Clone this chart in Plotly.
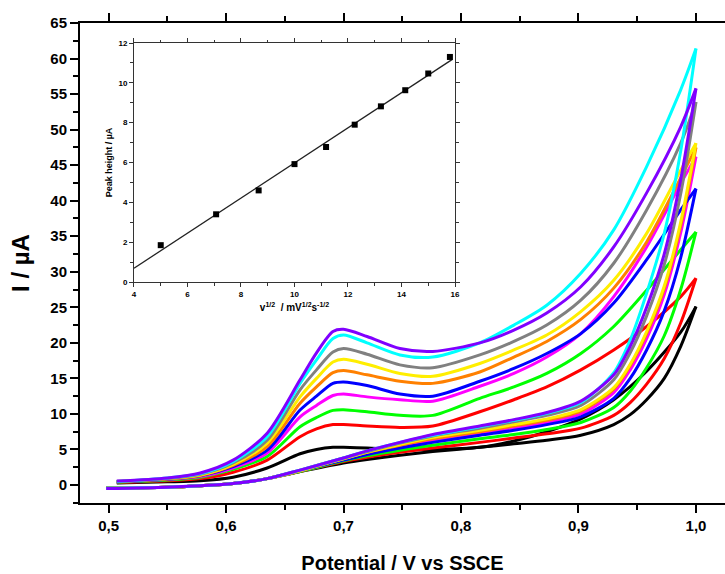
import numpy as np
import plotly.graph_objects as go

# ---------------- data ----------------
E_fwd = [0.507, 0.55, 0.578, 0.606, 0.635, 0.663, 0.677, 0.691, 0.70, 0.72, 0.748, 0.776,
         0.816, 0.845, 0.873, 0.902, 0.930, 0.958, 0.987, 1.0]
E_rev = [1.0, 0.987, 0.973, 0.958, 0.944, 0.93, 0.902, 0.873, 0.845, 0.816, 0.776, 0.748,
         0.72, 0.70, 0.663, 0.635, 0.606, 0.578, 0.55, 0.498]

series_names = ["black", "red", "green", "magenta", "blue", "orange", "yellow", "gray", "cyan", "purple"]

fwd_black   = [0.3, 0.45, 0.6, 1.1, 2.4, 4.4, 5.0, 5.3, 5.3, 5.2, 5.0, 5.0, 5.3, 6.2, 7.5, 9.3, 12.0, 16.0, 21.5, 25.1]
fwd_red     = [0.35, 0.6, 0.9, 1.8, 3.5, 6.8, 7.9, 8.5, 8.5, 8.3, 8.1, 8.3, 10.3, 12.0, 13.8, 16.2, 19.0, 22.3, 26.5, 29.1]
fwd_green   = [0.4, 0.7, 1.1, 2.2, 4.0, 8.2, 9.5, 10.5, 10.6, 10.3, 9.8, 9.8, 12.2, 13.8, 15.7, 18.5, 22.3, 27.4, 33.1, 35.6]
fwd_magenta = [0.45, 0.8, 1.2, 2.4, 4.5, 9.6, 11.2, 12.6, 12.8, 12.4, 12.0, 11.8, 13.9, 15.7, 18.0, 21.3, 26.5, 33.5, 42.4, 46.2]
fwd_blue    = [0.45, 0.8, 1.3, 2.6, 4.9, 10.55, 12.5, 14.3, 14.5, 14.0, 12.8, 12.5, 14.6, 16.4, 18.5, 21.3, 25.6, 31.7, 38.7, 41.7]
fwd_orange  = [0.5, 0.85, 1.35, 2.75, 5.4, 11.5, 13.8, 15.8, 16.1, 15.5, 14.6, 14.3, 15.9, 18.0, 20.2, 23.3, 27.7, 34.2, 43.2, 47.5]
fwd_yellow  = [0.5, 0.9, 1.4, 2.9, 5.9, 12.4, 15.0, 17.3, 17.7, 17.0, 15.7, 15.3, 17.1, 19.0, 21.1, 24.4, 28.8, 35.4, 44.3, 48.1]
fwd_gray    = [0.5, 0.9, 1.5, 3.1, 6.3, 13.4, 16.2, 18.7, 19.2, 18.4, 16.9, 16.5, 18.3, 20.2, 22.5, 26.0, 31.2, 38.7, 48.1, 53.9]
fwd_cyan    = [0.5, 1.0, 1.6, 3.3, 6.8, 14.3, 17.6, 20.6, 21.1, 20.0, 18.3, 18.0, 20.0, 22.5, 25.3, 29.8, 35.9, 44.8, 55.6, 61.4]
fwd_purple  = [0.55, 1.0, 1.7, 3.5, 7.3, 14.8, 18.6, 21.6, 21.9, 20.9, 19.2, 18.8, 20.0, 21.8, 24.2, 27.9, 33.5, 41.1, 50.4, 55.8]

rev_black   = [25.1, 19.5, 15.0, 12.0, 9.9, 8.5, 7.0, 6.3, 5.8, 5.3, 4.7, 4.2, 3.6, 3.1, 1.9, 0.9, 0.2, -0.1, -0.3, -0.4]
rev_red     = [29.1, 22.8, 17.8, 14.2, 11.6, 9.8, 8.0, 7.2, 6.6, 6.0, 5.2, 4.6, 3.9, 3.3, 1.9, 0.9, 0.2, -0.1, -0.3, -0.4]
rev_green   = [35.6, 27.5, 21.0, 16.5, 13.2, 10.9, 8.8, 7.8, 7.1, 6.5, 5.6, 4.9, 4.1, 3.4, 1.9, 0.9, 0.2, -0.1, -0.3, -0.4]
rev_magenta = [46.2, 35.5, 26.8, 20.6, 16.2, 13.0, 10.0, 8.8, 8.0, 7.2, 6.2, 5.4, 4.4, 3.6, 2.0, 0.9, 0.2, -0.1, -0.3, -0.4]
rev_blue    = [41.7, 32.0, 24.5, 19.0, 15.0, 12.2, 9.6, 8.5, 7.7, 7.0, 6.0, 5.2, 4.3, 3.5, 2.0, 0.9, 0.2, -0.1, -0.3, -0.4]
rev_orange  = [47.5, 36.5, 27.6, 21.3, 16.8, 13.5, 10.4, 9.1, 8.3, 7.5, 6.5, 5.6, 4.6, 3.7, 2.0, 0.9, 0.2, -0.1, -0.3, -0.4]
rev_yellow  = [48.1, 37.0, 28.0, 21.6, 17.0, 13.7, 10.6, 9.3, 8.5, 7.7, 6.7, 5.7, 4.6, 3.7, 2.0, 0.9, 0.2, -0.1, -0.3, -0.4]
rev_gray    = [53.9, 41.0, 31.0, 23.8, 18.6, 14.8, 11.2, 9.8, 8.9, 8.0, 6.9, 5.9, 4.7, 3.8, 2.1, 0.9, 0.2, -0.1, -0.3, -0.4]
rev_cyan    = [61.4, 47.0, 35.4, 27.0, 20.4, 15.8, 11.6, 10.1, 9.1, 8.2, 7.0, 6.0, 4.8, 3.8, 2.1, 0.9, 0.2, -0.1, -0.3, -0.45]
rev_purple  = [55.8, 43.0, 32.5, 25.0, 19.5, 15.5, 11.8, 10.2, 9.2, 8.3, 7.1, 6.0, 4.8, 3.8, 2.1, 0.9, 0.2, -0.1, -0.3, -0.5]

fwd_all = [fwd_black, fwd_red, fwd_green, fwd_magenta, fwd_blue, fwd_orange, fwd_yellow, fwd_gray, fwd_cyan, fwd_purple]
rev_all = [rev_black, rev_red, rev_green, rev_magenta, rev_blue, rev_orange, rev_yellow, rev_gray, rev_cyan, rev_purple]

# inset data
inset_x = [5.0, 7.07, 8.66, 10.0, 11.18, 12.25, 13.23, 14.14, 15.0, 15.81]
inset_y = [1.85, 3.4, 4.6, 5.92, 6.78, 7.9, 8.82, 9.63, 10.47, 11.3]
fit_x = [4.0, 15.9]

# ---------------- style ----------------
colors = {"black": "#000000", "red": "#FF0000", "green": "#00FF00", "magenta": "#FF00FF",
          "blue": "#0000FF", "orange": "#FF8000", "yellow": "#FFEE00", "gray": "#808080",
          "cyan": "#00FFFF", "purple": "#8000FF"}
FONT = "Liberation Sans, Arial, sans-serif"

fig = go.Figure()
for name, f, r in zip(series_names, fwd_all, rev_all):
    c = colors[name]
    fig.add_trace(go.Scatter(x=E_fwd, y=f, mode="lines", line=dict(color=c, width=3, shape="spline", smoothing=0.8),
                             showlegend=False, hoverinfo="skip"))
    fig.add_trace(go.Scatter(x=E_rev, y=r, mode="lines", line=dict(color=c, width=3, shape="spline", smoothing=0.8),
                             showlegend=False, hoverinfo="skip"))

# inset
slope, icpt = np.polyfit(inset_x, inset_y, 1)
fit_y = [slope * v + icpt for v in fit_x]
fig.add_trace(go.Scatter(x=fit_x, y=fit_y, mode="lines", line=dict(color="#222222", width=1.3),
                         xaxis="x2", yaxis="y2", showlegend=False, hoverinfo="skip"))
fig.add_trace(go.Scatter(x=inset_x, y=inset_y, mode="markers",
                         marker=dict(symbol="square", size=6, color="#000000"),
                         xaxis="x2", yaxis="y2", showlegend=False, hoverinfo="skip"))

x0, x1 = 0.4757, 1.0247
fig.update_layout(
    width=725, height=574,
    margin=dict(l=80, r=0, t=23, b=71),
    paper_bgcolor="white", plot_bgcolor="white",
    separators=",.",
    font=dict(family=FONT, color="#000000"),
    xaxis=dict(range=[x0, x1], domain=[0, 1], showgrid=False, zeroline=False, automargin=False,
               showline=True, linecolor="#000000", linewidth=2, mirror="ticks",
               ticks="outside", ticklen=8, tickwidth=2, tickcolor="#000000",
               tick0=0.5, dtick=0.1, tickformat=".1f",
               minor=dict(ticks="outside", ticklen=5, tickwidth=2, tickcolor="#000000", dtick=0.05, tick0=0.5),
               tickfont=dict(size=15, family=FONT, weight="bold"),
               title=dict(text="Potential / V vs SSCE", font=dict(size=20, family=FONT, weight="bold"), standoff=24)),
    yaxis=dict(range=[-2.53, 65], domain=[0, 1], showgrid=False, zeroline=False, automargin=False,
               showline=True, linecolor="#000000", linewidth=2, mirror=False,
               ticks="outside", ticklen=8, tickwidth=2, tickcolor="#000000",
               tick0=0, dtick=5,
               minor=dict(ticks="outside", ticklen=5, tickwidth=2, tickcolor="#000000", dtick=2.5, tick0=0),
               tickfont=dict(size=15, family=FONT, weight="bold"),
               title=dict(text="I / µA", font=dict(size=24, family=FONT, weight="bold"), standoff=14)),
    xaxis2=dict(range=[4, 16], domain=[0.0837, 0.5814], anchor="y2", showgrid=False, zeroline=False,
                showline=True, linecolor="#333333", linewidth=1, mirror="ticks", automargin=False,
                ticks="outside", ticklen=4, tickwidth=1, tickcolor="#333333",
                tick0=4, dtick=2,
                minor=dict(ticks="outside", ticklen=2.5, tickwidth=1, tickcolor="#333333", dtick=1, tick0=4),
                tickfont=dict(size=8, family=FONT, weight="bold"),
                title=dict(text="v<sup>1/2</sup>  / mV<sup>1/2</sup>s<sup>-1/2</sup>",
                           font=dict(size=10, family=FONT, weight="bold"), standoff=6)),
    yaxis2=dict(range=[0, 12], domain=[0.4604, 0.9583], anchor="x2", showgrid=False, zeroline=False,
                showline=True, linecolor="#333333", linewidth=1, mirror="ticks", automargin=False,
                ticks="outside", ticklen=4, tickwidth=1, tickcolor="#333333",
                tick0=0, dtick=2,
                minor=dict(ticks="outside", ticklen=2.5, tickwidth=1, tickcolor="#333333", dtick=1, tick0=0),
                tickfont=dict(size=8, family=FONT, weight="bold"),
                title=dict(text="Peak height / µA", font=dict(size=9, family=FONT, weight="bold"), standoff=4)),
)

fig.write_html("out.html")
